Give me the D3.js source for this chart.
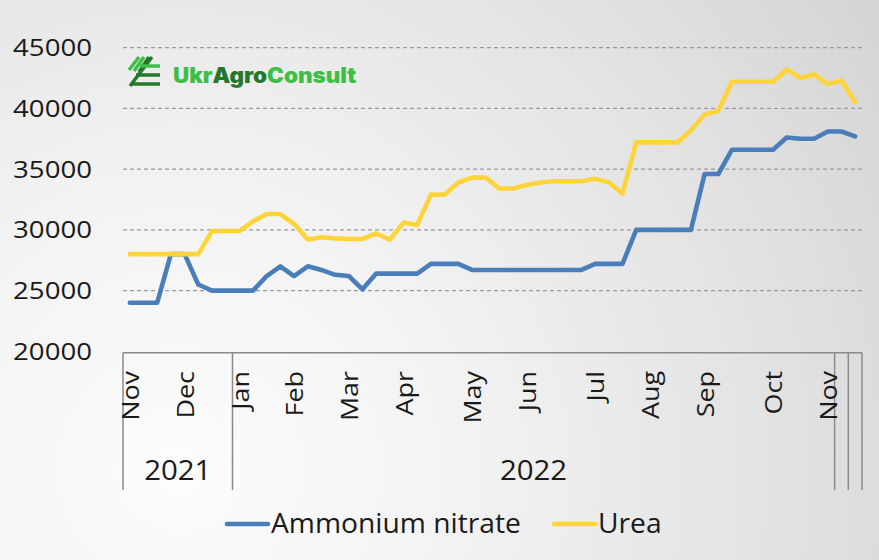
<!DOCTYPE html>
<html>
<head>
<meta charset="utf-8">
<script src="https://cdn.jsdelivr.net/npm/d3@7"></script>
<style>
  html, body { margin: 0; padding: 0; }
  svg { display: block; font-family: "Open Sans", "Noto Sans", sans-serif; }
</style>
</head>
<body>
<svg id="chart" width="879" height="560"></svg>
<script>
// weekly categories, Nov 2021 .. Nov 2022
var monthLabels = ['Nov','','','','Dec','','','','Jan','','','','Feb','','','','Mar','','','',
    'Apr','','','','','May','','','','Jun','','','','','Jul','','','','Aug','','','',
    'Sep','','','','','Oct','','','','Nov','',''];
// year groups: label, first category, last category
var yearGroups = [
    {label:'2021', from:0, to:7},
    {label:'2022', from:8, to:51},
    {label:'', from:52, to:52},
    {label:'', from:53, to:53}
];
var ammoniumNitrate = [24000,24000,24000,28000,28000,25500,25000,25000,25000,25000,
    26200,27000,26200,27000,26700,26300,26200,25100,26400,26400,
    26400,26400,27200,27200,27200,26700,26700,26700,26700,26700,
    26700,26700,26700,26700,27200,27200,27200,30000,30000,30000,
    30000,30000,34600,34600,36600,36600,36600,36600,37600,37500,
    37500,38100,38100,37700];
var urea = [28000,28000,28000,28000,28000,28000,29900,29900,29900,30700,
    31300,31300,30500,29200,29400,29300,29250,29250,29700,29200,
    30600,30400,32900,32900,33900,34300,34300,33400,33400,33700,
    33900,34000,34000,34000,34200,33900,33000,37200,37200,37200,
    37200,38200,39500,39800,42200,42200,42200,42200,43200,42500,
    42800,42000,42300,40500];
var yTicks = [20000,25000,30000,35000,40000,45000];
var seriesNames = ['Ammonium nitrate','Urea'];
var seriesColors = ['#4a7ebb','#fdd43a'];

(function () {
    var svg = d3.select('#chart');
    var W = 879, H = 560;
    var plot = {left:123, right:862, top:47.7, bottom:351.3};
    var labelBottom = 490;

    // background
    var defs = svg.append('defs');
    var grad = defs.append('radialGradient').attr('id','bg')
        .attr('gradientUnits','userSpaceOnUse')
        .attr('cx',180).attr('cy',470).attr('r',900);
    grad.append('stop').attr('offset','0').attr('stop-color','#fdfdfd');
    grad.append('stop').attr('offset','0.35').attr('stop-color','#f1f1f1');
    grad.append('stop').attr('offset','1').attr('stop-color','#d2d2d2');
    svg.append('rect').attr('width',W).attr('height',H).attr('fill','url(#bg)');

    var x = d3.scaleBand().domain(d3.range(monthLabels.length)).range([plot.left, plot.right]).padding(0);
    var y = d3.scaleLinear().domain([20000,45000]).range([plot.bottom, plot.top]);
    var cx = function (i) { return x(i) + x.bandwidth() / 2; };

    // gridlines
    svg.append('g').selectAll('line').data(yTicks.slice(1)).enter().append('line')
        .attr('x1',plot.left).attr('x2',plot.right)
        .attr('y1',function (d) { return y(d); }).attr('y2',function (d) { return y(d); })
        .attr('stroke','#9a9a9a').attr('stroke-width',1.2).attr('stroke-dasharray','4,3');

    // y labels
    svg.append('g').selectAll('text').data(yTicks).enter().append('text')
        .attr('transform',function (d) { return 'translate(92,' + (y(d) + 8.5) + ') scale(1.15,1)'; })
        .attr('text-anchor','end').attr('font-size',24).attr('fill','#1a1a1a')
        .text(function (d) { return d; });

    // category axis box
    var ax = svg.append('g').attr('stroke','#8a8a8a').attr('stroke-width',1.5).attr('fill','none');
    ax.append('line').attr('x1',plot.left).attr('x2',plot.right)
        .attr('y1',plot.bottom + 1.5).attr('y2',plot.bottom + 1.5);
    var bounds = [yearGroups[0].from].concat(yearGroups.map(function (g) { return g.to + 1; }));
    ax.selectAll('line.sep').data(bounds).enter().append('line').classed('sep',true)
        .attr('x1',function (d) { return d < monthLabels.length ? x(d) : plot.right; })
        .attr('x2',function (d) { return d < monthLabels.length ? x(d) : plot.right; })
        .attr('y1',plot.bottom + 1.5).attr('y2',labelBottom);

    // month labels
    svg.append('g').selectAll('text').data(monthLabels.map(function (m, i) { return {m:m, i:i}; })
        .filter(function (d) { return d.m; })).enter().append('text')
        .attr('transform',function (d) { return 'translate(' + cx(d.i) + ',371) rotate(-90) scale(1.17,1)'; })
        .attr('text-anchor','end').attr('dominant-baseline','central')
        .attr('font-size',23).attr('fill','#1a1a1a')
        .text(function (d) { return d.m; });

    // year labels
    svg.append('g').selectAll('text').data(yearGroups.filter(function (g) { return g.label; })).enter().append('text')
        .attr('transform',function (g) {
            var mid = (x(g.from) + x(g.to) + x.bandwidth()) / 2;
            return 'translate(' + mid + ',480) scale(1.05,1)';
        })
        .attr('text-anchor','middle').attr('font-size',28).attr('fill','#1a1a1a')
        .text(function (g) { return g.label; });

    // series
    var line = d3.line().x(function (d, i) { return cx(i); }).y(function (d) { return y(d); });
    [ammoniumNitrate, urea].forEach(function (s, k) {
        svg.append('path').datum(s).attr('d',line)
            .attr('fill','none').attr('stroke',seriesColors[k]).attr('stroke-width',4.6)
            .attr('stroke-linejoin','round').attr('stroke-linecap','round');
    });

    // legend
    var legendX = [227, 554];
    var lg = svg.append('g');
    seriesNames.forEach(function (name, k) {
        lg.append('line').attr('x1',legendX[k]).attr('x2',legendX[k] + 41)
            .attr('y1',524).attr('y2',524)
            .attr('stroke',seriesColors[k]).attr('stroke-width',4.6).attr('stroke-linecap','round');
        lg.append('text').attr('transform','translate(' + (legendX[k] + 44) + ',533) scale(1.045,1)')
            .attr('font-size',27).attr('fill','#1a1a1a').text(name);
    });

    // logo
    var logo = svg.append('g');
    var light = '#3dbf47', dark = '#25772c';
    [0,1,2].forEach(function (k) {
        logo.append('line').attr('x1',129 + k * 5).attr('y1',70 + k * 1)
            .attr('x2',139 + k * 5).attr('y2',57)
            .attr('stroke',k === 2 ? dark : light).attr('stroke-width',3.5);
    });
    logo.append('line').attr('x1',130).attr('y1',86).attr('x2',152).attr('y2',57)
        .attr('stroke',dark).attr('stroke-width',3.5);
    [66, 75, 84].forEach(function (yy, k) {
        logo.append('line').attr('x1',k === 2 ? 131 : 140 - k * 4).attr('x2',160)
            .attr('y1',yy).attr('y2',yy)
            .attr('stroke',k === 0 ? light : dark).attr('stroke-width',3.5);
    });
    var t = logo.append('text').attr('transform','translate(173,82.5) scale(1.07,1)')
        .attr('font-family','Inter, Roboto, sans-serif').attr('font-weight',900).attr('font-size',21);
    t.append('tspan').attr('fill',light).text('Ukr');
    t.append('tspan').attr('fill',dark).text('Agro');
    t.append('tspan').attr('fill',light).text('Consult');
})();
</script>
</body>
</html>
